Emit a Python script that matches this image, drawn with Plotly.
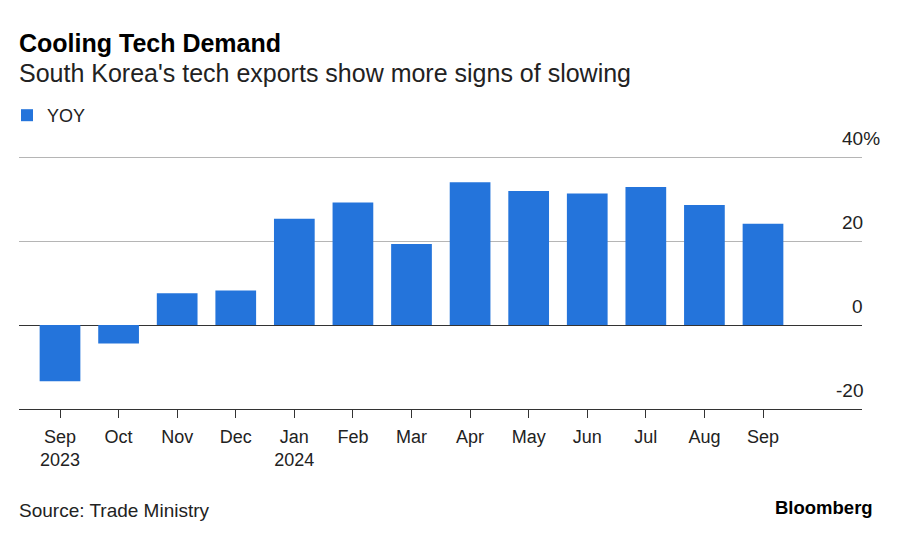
import plotly.graph_objects as go

months = ["Sep<br>2023", "Oct", "Nov", "Dec", "Jan<br>2024", "Feb", "Mar",
          "Apr", "May", "Jun", "Jul", "Aug", "Sep"]
yoy = [-13.4, -4.4, 7.6, 8.2, 25.3, 29.2, 19.3, 34.0, 31.9, 31.3, 32.9, 28.6, 24.1]
y_ticks = [-20, 0, 20, 40]
y_tick_text = ["-20", "0", "20", "40%"]

BLUE = "#2474db"
FONT = "Liberation Sans, Arial, sans-serif"

W, H = 900, 538
L, R, T, B = 19, 38, 155, 129
PW, PH = W - L - R, H - T - B


def px(x):
    return (x - L) / PW


def py(y):
    return (H - B - y) / PH


xpos = list(range(len(months)))

fig = go.Figure()
fig.add_trace(go.Bar(
    x=xpos, y=yoy, name="YOY", marker=dict(color=BLUE, line=dict(width=0)),
    width=0.695, showlegend=True,
))

fig.update_layout(
    width=W, height=H,
    margin=dict(l=L, r=R, t=T, b=B),
    paper_bgcolor="white", plot_bgcolor="white",
    font=dict(family=FONT, size=18, color="#222"),
    showlegend=True,
    legend=dict(
        xref="container", yref="container", x=7 / W, y=1 - 97 / H,
        xanchor="left", yanchor="top", orientation="h",
        font=dict(size=18, color="#222"), bgcolor="rgba(0,0,0,0)",
        itemwidth=30, tracegroupgap=0,
    ),
)

fig.update_xaxes(
    range=[-0.7, 13.69], tickvals=xpos, ticktext=months,
    showgrid=False, zeroline=False,
    showline=True, linecolor="#333", linewidth=1.3,
    ticks="outside", ticklen=8, tickcolor="#333", tickwidth=1.3,
    ticklabelstandoff=3,
    tickfont=dict(size=18, color="#222"),
)
fig.update_yaxes(
    range=[-20, 40.5], tickvals=y_ticks, showticklabels=False,
    showgrid=True, gridcolor="#b5b5b5", gridwidth=1.3,
    zeroline=True, zerolinecolor="#333", zerolinewidth=1.3,
)

# y tick labels above the gridlines, right-aligned (the "%" hangs past the edge)
for v, t in zip(y_ticks, y_tick_text):
    fig.add_annotation(
        x=1, xref="paper", y=v, yref="y", text=t, showarrow=False,
        xanchor="right", yanchor="middle", yshift=18.5,
        xshift=20 if t.endswith("%") else 3,
        font=dict(size=19, color="#222"),
    )

fig.add_annotation(
    x=px(17), xref="paper", y=py(43), yref="paper",
    text="<b>Cooling Tech Demand</b>", showarrow=False,
    xanchor="left", yanchor="middle", font=dict(size=25, color="#000"),
)
fig.add_annotation(
    x=px(17), xref="paper", y=py(73), yref="paper",
    text="South Korea's tech exports show more signs of slowing", showarrow=False,
    xanchor="left", yanchor="middle", font=dict(size=25, color="#222"),
)
fig.add_annotation(
    x=px(17), xref="paper", y=py(510), yref="paper",
    text="Source: Trade Ministry", showarrow=False,
    xanchor="left", yanchor="middle", font=dict(size=19, color="#222"),
)
fig.add_annotation(
    x=px(875), xref="paper", y=py(507), yref="paper",
    text="<b>Bloomberg</b>", showarrow=False,
    xanchor="right", yanchor="middle", font=dict(size=18.5, color="#000"),
)

fig.write_html(
    "out.html",
    config={"displayModeBar": False},
    post_script="document.body.style.margin='0';",
)
